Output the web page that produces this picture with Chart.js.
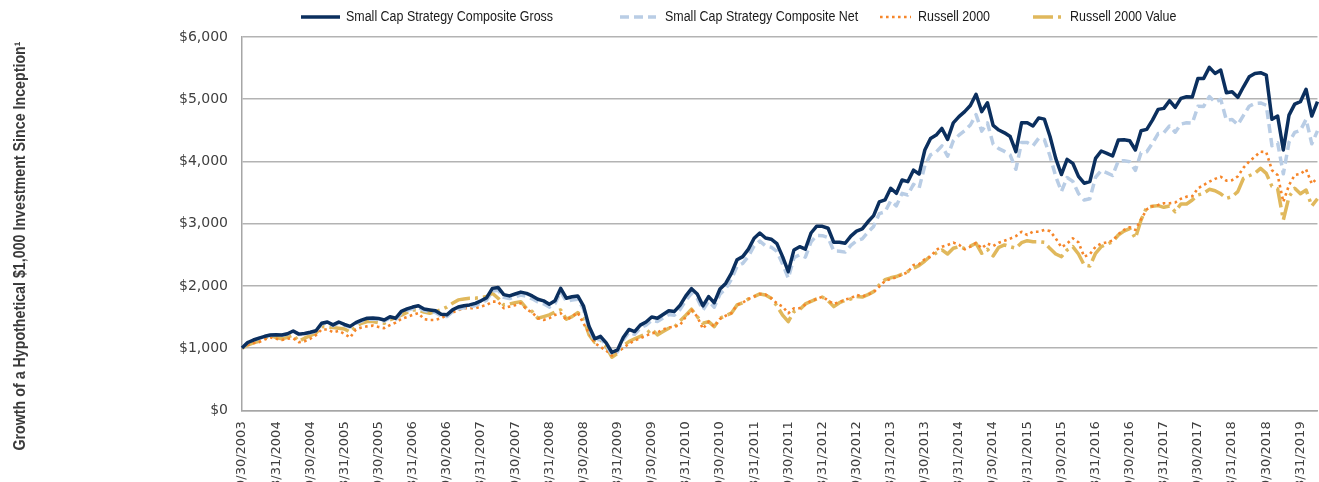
<!DOCTYPE html>
<html>
<head>
<meta charset="utf-8">
<script src="https://cdn.jsdelivr.net/npm/chart.js@4.4.1/dist/chart.umd.min.js"></script>
<style>
  html, body { margin: 0; padding: 0; background: #fff; overflow: hidden; }
  #wrap { position: relative; width: 1327px; height: 499px; }
</style>
</head>
<body>
<div id="wrap"><canvas id="growth-chart"></canvas></div>
<script>
// monthly month-end dates, 9/30/2003 .. 6/30/2019
const dates = [];
for (let y = 2003, m = 9; y < 2019 || (y === 2019 && m <= 6); m++) {
  if (m > 12) { m = 1; y++; }
  if (y === 2019 && m > 6) break;
  const last = new Date(y, m, 0).getDate();
  dates.push(m + '/' + last + '/' + y);
}

const seriesNames = [
  'Small Cap Strategy Composite Gross',
  'Small Cap Strategy Composite Net',
  'Russell 2000',
  'Russell 2000 Value',
];

const yTicks = [0, 1000, 2000, 3000, 4000, 5000, 6000];

const gross = [
  1000, 1090, 1130, 1160, 1190, 1212, 1215, 1212, 1230, 1276,
  1225, 1235, 1255, 1280, 1400, 1420, 1373, 1420, 1380, 1350,
  1410, 1450, 1480, 1485, 1475, 1453, 1505, 1480, 1590, 1630,
  1660, 1680, 1630, 1614, 1600, 1545, 1535, 1614, 1660, 1680,
  1694, 1720, 1760, 1811, 1960, 1975, 1860, 1839, 1870, 1900,
  1880, 1839, 1786, 1760, 1705, 1760, 1960, 1802, 1825, 1839,
  1680, 1346, 1150, 1190, 1085, 930, 972, 1170, 1300, 1266,
  1370, 1420, 1500, 1480, 1540, 1600, 1590, 1690, 1840, 1955,
  1871, 1680, 1828, 1730, 1950, 2040, 2200, 2420, 2470, 2590,
  2765, 2850, 2770, 2750, 2680, 2470, 2230, 2578, 2630, 2590,
  2850, 2960, 2958, 2926, 2700, 2700, 2685, 2800, 2880, 2915,
  3030, 3130, 3350, 3381, 3570, 3488, 3702, 3675, 3860, 3798,
  4184, 4370, 4424, 4530, 4355, 4620, 4720, 4800, 4900, 5080,
  4800, 4943, 4580, 4505, 4460, 4400, 4157, 4622, 4622, 4570,
  4700, 4680, 4400, 4050, 3790, 4034, 3970, 3760, 3650, 3675,
  4050, 4168, 4130, 4087, 4344, 4350, 4333, 4184, 4494, 4516,
  4665, 4837, 4853, 4976, 4869, 5014, 5040, 5035, 5335, 5335,
  5512, 5415, 5468, 5104, 5120, 5030, 5200, 5361, 5415, 5426,
  5388, 4677, 4729, 4184, 4745, 4922, 4960, 5159, 4729, 4960,
];

const net = [
  1000, 1089, 1129, 1158, 1188, 1209, 1211, 1208, 1225, 1270,
  1219, 1228, 1247, 1272, 1390, 1409, 1362, 1408, 1368, 1337,
  1396, 1435, 1464, 1468, 1457, 1435, 1485, 1460, 1568, 1606,
  1635, 1654, 1604, 1587, 1573, 1518, 1507, 1584, 1628, 1647,
  1660, 1685, 1723, 1772, 1917, 1931, 1817, 1796, 1825, 1853,
  1833, 1792, 1740, 1713, 1659, 1712, 1905, 1751, 1772, 1785,
  1630, 1305, 1114, 1153, 1050, 900, 940, 1131, 1256, 1222,
  1322, 1370, 1446, 1426, 1483, 1540, 1530, 1625, 1768, 1878,
  1796, 1612, 1753, 1658, 1868, 1953, 2105, 2315, 2361, 2475,
  2641, 2720, 2643, 2622, 2554, 2353, 2123, 2453, 2501, 2462,
  2708, 2811, 2807, 2775, 2560, 2558, 2543, 2650, 2724, 2756,
  2863, 2956, 3162, 3190, 3367, 3287, 3487, 3460, 3632, 3572,
  3933, 4106, 4154, 4251, 4085, 4331, 4423, 4495, 4586, 4752,
  4488, 4619, 4278, 4205, 4161, 4103, 3874, 4305, 4303, 4252,
  4371, 4350, 4088, 3760, 3517, 3742, 3680, 3484, 3380, 3401,
  3746, 3853, 3816, 3774, 4010, 4013, 3995, 3856, 4139, 4157,
  4292, 4448, 4460, 4570, 4470, 4600, 4622, 4615, 4887, 4884,
  5043, 4952, 4998, 4663, 4675, 4590, 4742, 4887, 4933, 4940,
  4903, 4254, 4299, 3801, 4308, 4467, 4499, 4677, 4284, 4491,
];

const russell2000 = [
  1000, 1050, 1080, 1095, 1140, 1170, 1150, 1132, 1150, 1160,
  1095, 1110, 1150, 1210, 1300, 1300, 1256, 1276, 1230, 1170,
  1300, 1330, 1350, 1362, 1340, 1320, 1370, 1410, 1470, 1500,
  1534, 1561, 1465, 1453, 1453, 1480, 1530, 1570, 1610, 1641,
  1641, 1641, 1670, 1694, 1747, 1747, 1641, 1667, 1690, 1721,
  1625, 1571, 1480, 1453, 1480, 1534, 1561, 1453, 1506, 1571,
  1400, 1240, 1080, 1020, 960, 880, 944, 1000, 1070, 1120,
  1160, 1200, 1240, 1250, 1300, 1330, 1346, 1373, 1506, 1614,
  1506, 1310, 1426, 1346, 1470, 1520, 1561, 1694, 1731, 1790,
  1830, 1871, 1860, 1802, 1720, 1667, 1561, 1641, 1641, 1700,
  1760, 1790, 1828, 1764, 1710, 1740, 1780, 1802, 1855, 1830,
  1860, 1900, 1988, 2080, 2110, 2140, 2180, 2220, 2337, 2350,
  2430, 2470, 2578, 2631, 2658, 2695, 2660, 2589, 2631, 2690,
  2605, 2680, 2640, 2695, 2727, 2760, 2800, 2871, 2818, 2871,
  2871, 2900, 2880, 2765, 2620, 2680, 2765, 2700, 2470, 2510,
  2630, 2680, 2700, 2727, 2830, 2900, 2942, 2900, 3071, 3231,
  3280, 3300, 3327, 3327, 3340, 3400, 3434, 3440, 3568, 3621,
  3675, 3720, 3755, 3691, 3700, 3760, 3900, 4000, 4076, 4157,
  4150, 3860, 3780, 3350, 3620, 3782, 3798, 3873, 3640, 3740,
];

const russell2000Value = [
  1000, 1050, 1085, 1110, 1160, 1201, 1170, 1148, 1175, 1212,
  1110, 1160, 1200, 1240, 1346, 1340, 1330, 1320, 1309, 1256,
  1350, 1400, 1426, 1426, 1410, 1400, 1453, 1490, 1530, 1575,
  1614, 1614, 1578, 1561, 1587, 1620, 1660, 1720, 1775, 1790,
  1802, 1802, 1815, 1828, 1882, 1802, 1694, 1710, 1730, 1747,
  1640, 1587, 1480, 1506, 1534, 1580, 1614, 1465, 1506, 1571,
  1480, 1213, 1090, 1132, 1025, 854, 918, 1040, 1105, 1150,
  1190, 1230, 1304, 1213, 1266, 1320, 1340, 1440, 1530, 1625,
  1506, 1400, 1426, 1346, 1480, 1520, 1561, 1694, 1731, 1790,
  1828, 1871, 1855, 1802, 1680, 1530, 1426, 1587, 1620, 1710,
  1750, 1790, 1820, 1760, 1667, 1730, 1770, 1790, 1828, 1820,
  1860, 1908, 2015, 2100, 2130, 2150, 2190, 2230, 2283, 2330,
  2400, 2480, 2530, 2578, 2513, 2605, 2631, 2600, 2640, 2685,
  2524, 2589, 2481, 2620, 2658, 2630, 2605, 2695, 2727, 2710,
  2711, 2700, 2600, 2513, 2470, 2578, 2631, 2513, 2337, 2320,
  2524, 2631, 2670, 2711, 2818, 2880, 2920, 2765, 3060, 3263,
  3280, 3290, 3263, 3284, 3193, 3316, 3316, 3380, 3461, 3488,
  3552, 3530, 3480, 3408, 3434, 3515, 3729, 3770, 3809, 3889,
  3809, 3600, 3560, 3060, 3434, 3568, 3480, 3541, 3284, 3400,
];

const tickFamily = "'DejaVu Sans', Verdana, sans-serif";
const narrowFamily = "'Liberation Sans', Arial, sans-serif";
const condense = 0.89; // the original uses a condensed gothic face

const lineStyles = [
  { color: '#0b2f5e', width: 3.5, dash: [] },
  { color: '#b9cde5', width: 3.5, dash: [9, 5] },
  { color: '#f6862a', width: 2.6, dash: [2.6, 3.4] },
  { color: '#e0b85c', width: 3.5, dash: [20, 5, 3, 5] },
];

// legend row and y axis title, drawn by hand in a narrow face
const condensedText = {
  id: 'condensedText',
  afterDraw(chart, args, opts) {
    const ctx = chart.ctx;
    ctx.save();
    ctx.textBaseline = 'middle';
    ctx.fillStyle = '#1a1a1a';
    ctx.font = opts.legendFont;
    chart.data.datasets.forEach((ds, i) => {
      const item = opts.items[i];
      ctx.beginPath();
      ctx.strokeStyle = ds.borderColor;
      ctx.lineWidth = ds.borderWidth;
      ctx.setLineDash(ds.borderDash || []);
      ctx.moveTo(item.x, opts.legendY);
      ctx.lineTo(item.x + item.w, opts.legendY);
      ctx.stroke();
      ctx.save();
      ctx.translate(item.textX, opts.legendY);
      ctx.scale(condense, 1);
      ctx.fillText(ds.label, 0, 0);
      ctx.restore();
    });

    ctx.font = opts.titleFont;
    ctx.fillStyle = '#3a3a3a';
    ctx.textAlign = 'center';
    ctx.textBaseline = 'alphabetic';
    ctx.translate(opts.titleX, opts.titleY);
    ctx.rotate(-Math.PI / 2);
    ctx.scale(condense, 1);
    ctx.fillText(opts.title, 0, 0);
    ctx.restore();
  },
};

const series = [gross, net, russell2000, russell2000Value];

new Chart(document.getElementById('growth-chart'), {
  type: 'line',
  data: {
    labels: dates,
    datasets: series.map((values, i) => ({
      label: seriesNames[i],
      data: values,
      borderColor: lineStyles[i].color,
      backgroundColor: lineStyles[i].color,
      borderWidth: lineStyles[i].width,
      borderDash: lineStyles[i].dash,
      borderCapStyle: 'butt',
      borderJoinStyle: 'round',
      pointRadius: 0,
      tension: 0,
      fill: false,
    })),
  },
  options: {
    responsive: true,
    maintainAspectRatio: false,
    animation: false,
    layout: {
      padding: { top: 37, right: 0, bottom: 0, left: 0 },
    },
    plugins: {
      legend: { display: false },
      tooltip: { enabled: false },
      condensedText: {
        legendFont: '14px ' + narrowFamily,
        legendY: 17,
        items: [
          { x: 301, w: 39, textX: 346 },
          { x: 620, w: 36, textX: 665 },
          { x: 880, w: 31, textX: 918 },
          { x: 1033, w: 33, textX: 1070 },
        ],
        title: 'Growth of a Hypothetical $1,000 Investment Since Inception\u00b9',
        titleFont: 'bold 16px ' + narrowFamily,
        titleX: 25,
        titleY: 246,
      },
    },
    scales: {
      x: {
        grid: { display: false, drawTicks: false },
        border: { display: true, color: '#a6a6a6', width: 1.5 },
        ticks: {
          autoSkip: false,
          minRotation: 90,
          maxRotation: 90,
          padding: 11,
          color: '#404040',
          font: { family: tickFamily, size: 13 },
          callback: (value, index) => (index % 6 === 0 ? dates[index] : null),
        },
      },
      y: {
        min: 0,
        max: 6000,
        afterBuildTicks: (scale) => {
          scale.ticks = yTicks.map((v) => ({ value: v }));
        },
        afterFit: (scale) => {
          scale.width = 242;
        },
        grid: { color: '#b3b3b3', lineWidth: 1.5, drawTicks: false },
        border: { display: true, color: '#a6a6a6', width: 1.5 },
        ticks: {
          padding: 14,
          color: '#404040',
          font: { family: tickFamily, size: 14 },
          callback: (value) => '$' + value.toLocaleString('en-US'),
        },
      },
    },
  },
  plugins: [condensedText],
});
</script>
</body>
</html>
